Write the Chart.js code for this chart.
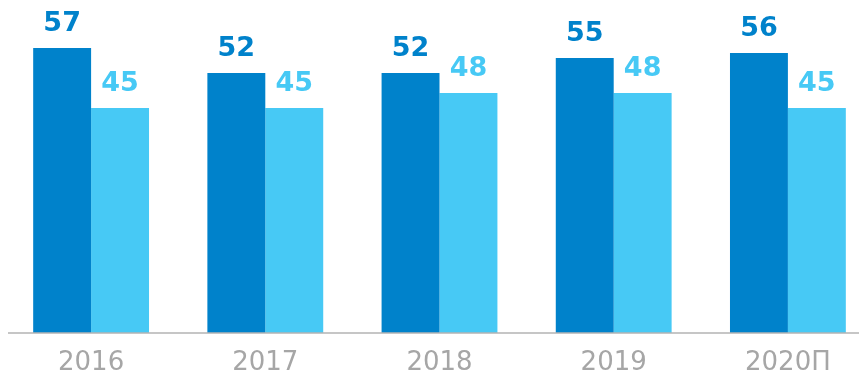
<!DOCTYPE html>
<html>
<head>
<meta charset="utf-8">
<script src="https://cdn.jsdelivr.net/npm/chart.js@4"></script>
<style>
  html, body { margin: 0; padding: 0; background: #ffffff; overflow: hidden; }
  #wrap { width: 880px; height: 378px; position: relative; }
</style>
</head>
<body>
<div id="wrap"><canvas id="chart"></canvas></div>
<script>
const categories = ['2016', '2017', '2018', '2019', '2020П'];
const seriesDark = [57, 52, 52, 55, 56];
const seriesLight = [45, 45, 48, 48, 45];

const darkBlue = '#0082cb';
const lightBlue = '#47c9f5';

// Value labels above each bar, in the bar's own colour
const valueLabels = {
  id: 'valueLabels',
  afterDatasetsDraw(chart) {
    const ctx = chart.ctx;
    ctx.save();
    ctx.font = 'bold 27px "DejaVu Sans"';
    ctx.textAlign = 'center';
    ctx.textBaseline = 'alphabetic';
    chart.data.datasets.forEach((ds, i) => {
      chart.getDatasetMeta(i).data.forEach((bar, j) => {
        ctx.fillStyle = ds.backgroundColor;
        ctx.fillText(String(ds.data[j]), bar.x, bar.y - 17);
      });
    });
    ctx.restore();
  }
};

// Baseline under the bars
const baseLine = {
  id: 'baseLine',
  afterDatasetsDraw(chart) {
    const ctx = chart.ctx;
    const y = chart.scales.y.getPixelForValue(0);
    ctx.save();
    ctx.strokeStyle = '#b3b3b3';
    ctx.lineWidth = 1.5;
    ctx.beginPath();
    ctx.moveTo(8, y);
    ctx.lineTo(chart.width, y);
    ctx.stroke();
    ctx.restore();
  }
};

new Chart(document.getElementById('chart'), {
  type: 'bar',
  data: {
    labels: categories,
    datasets: [
      { label: 'Ряд 1', data: seriesDark, backgroundColor: darkBlue },
      { label: 'Ряд 2', data: seriesLight, backgroundColor: lightBlue }
    ]
  },
  options: {
    responsive: true,
    maintainAspectRatio: false,
    animation: false,
    layout: { padding: { top: 33, left: 4, right: 5, bottom: 0 } },
    datasets: { bar: { categoryPercentage: 0.665, barPercentage: 1.0 } },
    plugins: { legend: { display: false }, tooltip: { enabled: false } },
    scales: {
      x: {
        grid: { display: false, drawTicks: false },
        border: { display: false },
        ticks: {
          color: '#a6a6a6',
          font: { family: 'DejaVu Sans', size: 26 },
          padding: 15
        },
        afterFit(scale) { scale.height = 45; }
      },
      y: {
        display: false,
        min: 0,
        max: 60
      }
    }
  },
  plugins: [valueLabels, baseLine]
});
</script>
</body>
</html>
